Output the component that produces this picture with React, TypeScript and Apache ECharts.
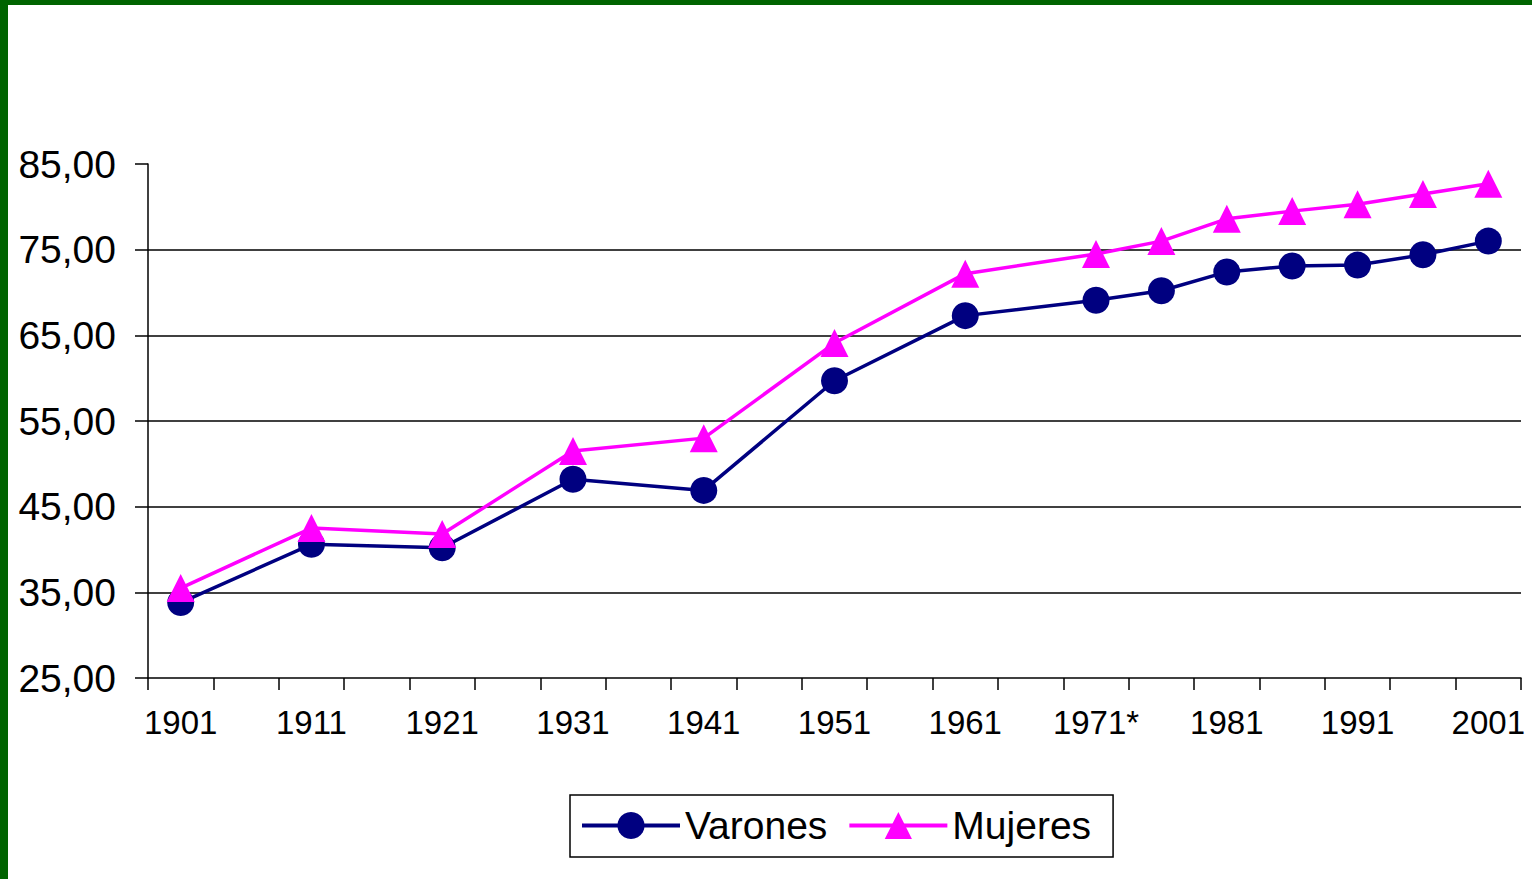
import React, { useEffect, useRef } from "react";
import * as echarts from "echarts";

const categories = [
  "1901", "1906", "1911", "1916", "1921", "1926", "1931", "1936", "1941", "1946",
  "1951", "1956", "1961", "1966", "1971*", "1976", "1981", "1986", "1991", "1996", "2001",
];
const varones = [
  33.8, null, 40.6, null, 40.2, null, 48.2, null, 46.9, null,
  59.7, null, 67.3, null, 69.1, 70.2, 72.4, 73.1, 73.2, 74.4, 76.0,
];
const mujeres = [
  35.5, null, 42.5, null, 41.8, null, 51.5, null, 53.0, null,
  64.1, null, 72.2, null, 74.5, 76.0, 78.6, 79.5, 80.3, 81.5, 82.7,
];
const yMin = 25;
const yMax = 85;
const yStep = 10;

export default function App() {
  const ref = useRef<HTMLDivElement>(null);
  useEffect(() => {
    if (!ref.current) return;
    const chart = echarts.init(ref.current, undefined, { renderer: "svg" });
    const font = "Liberation Sans, Arial, sans-serif";
    chart.setOption({
      animation: false,
      backgroundColor: "#ffffff",
      textStyle: { fontFamily: font },
      graphic: [
        { type: "rect", left: 0, top: 0, shape: { width: 1532, height: 5 }, style: { fill: "#006400" } },
        { type: "rect", left: 0, top: 0, shape: { width: 8, height: 879 }, style: { fill: "#006400" } },
      ],
      grid: { left: 148, right: 11, top: 164, bottom: 201, containLabel: false },
      legend: {
        left: 570,
        top: 795,
        orient: "horizontal",
        borderColor: "#000000",
        borderWidth: 1.5,
        borderRadius: 0,
        padding: [11, 22, 12, 10],
        itemWidth: 98,
        itemHeight: 34,
        itemGap: 20,
        textStyle: { fontSize: 39, color: "#000000", fontFamily: font },
        data: [
          { name: "Varones", lineStyle: { width: 4 } },
          { name: "Mujeres", lineStyle: { width: 4 } },
        ],
      },
      xAxis: {
        type: "category",
        data: categories,
        boundaryGap: true,
        axisLine: { lineStyle: { color: "#000000", width: 1.5 } },
        axisTick: { show: true, interval: 0, length: 12, lineStyle: { color: "#000000", width: 1.5 } },
        axisLabel: { interval: 1, margin: 28, fontSize: 33, color: "#000000", fontFamily: font },
        splitLine: { show: false },
      },
      yAxis: {
        type: "value",
        min: yMin,
        max: yMax,
        interval: yStep,
        axisLine: { show: true, lineStyle: { color: "#000000", width: 1.5 } },
        axisTick: { show: true, length: 13, lineStyle: { color: "#000000", width: 1.5 } },
        axisLabel: {
          margin: 32,
          fontSize: 39,
          color: "#000000",
          fontFamily: font,
          formatter: (v: number) => v.toFixed(2).replace(".", ","),
        },
        splitLine: { show: true, showMaxLine: false, showMinLine: false, lineStyle: { color: "#000000", width: 1.5 } },
      },
      series: [
        {
          name: "Varones",
          type: "line",
          data: varones,
          connectNulls: true,
          symbol: "circle",
          symbolSize: 27,
          lineStyle: { color: "#000080", width: 3.5 },
          itemStyle: { color: "#000080" },
          z: 2,
        },
        {
          name: "Mujeres",
          type: "line",
          data: mujeres,
          connectNulls: true,
          symbol: "triangle",
          symbolSize: 28,
          lineStyle: { color: "#FF00FF", width: 3.5 },
          itemStyle: { color: "#FF00FF" },
          z: 3,
        },
      ],
    });
    return () => chart.dispose();
  }, []);
  return (
    <div
      ref={ref}
      style={{ position: "fixed", left: 0, top: 0, width: 1532, height: 879 }}
    />
  );
}
